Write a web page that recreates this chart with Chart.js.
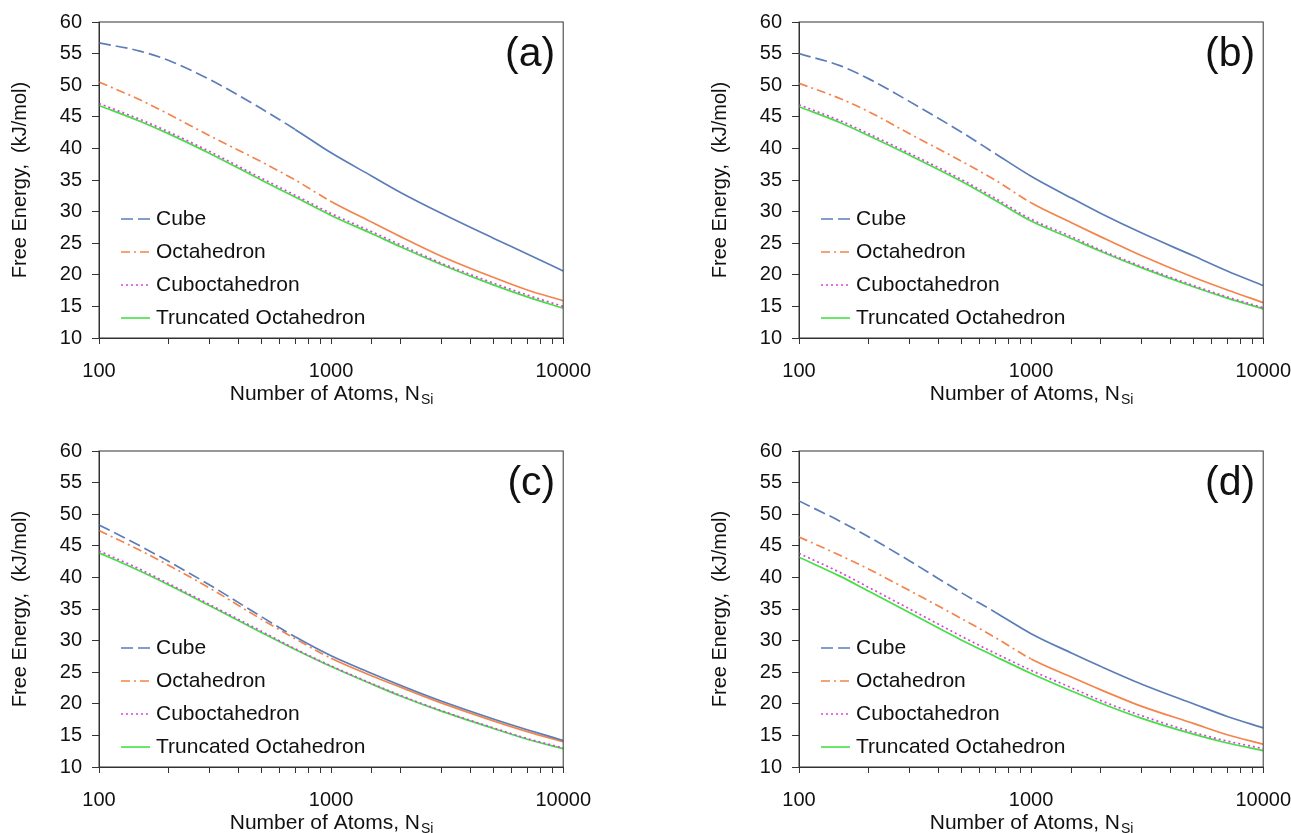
<!DOCTYPE html>
<html>
<head>
<meta charset="utf-8">
<script src="https://cdn.jsdelivr.net/npm/chart.js@4.4.0/dist/chart.umd.min.js"></script>
<style>
  html, body { margin: 0; padding: 0; background: #fff; overflow: hidden; }
  .panel { position: absolute; width: 606px; height: 410px; }
</style>
</head>
<body>
<div class="panel" style="left:0px;top:0px"><canvas id="chartA"></canvas></div>
<div class="panel" style="left:700px;top:0px"><canvas id="chartB"></canvas></div>
<div class="panel" style="left:0px;top:429px"><canvas id="chartC"></canvas></div>
<div class="panel" style="left:700px;top:429px"><canvas id="chartD"></canvas></div>
<script>
// x values (number of Si atoms)
const nAtoms = [100, 150, 200, 300, 500, 700, 1000, 1500, 2000, 3000, 5000, 7000, 10000];
const seriesNames = ['Cube', 'Octahedron', 'Cuboctahedron', 'Truncated Octahedron'];
const xTickLabels = [100, 1000, 10000];

// (a)
const cubeA  = [56.7, 55.4, 53.9, 50.9, 46.3, 43.0, 39.3, 35.6, 33.0, 29.7, 25.8, 23.3, 20.6];
const octA   = [50.5, 47.7, 45.4, 42.0, 37.9, 35.0, 31.6, 28.3, 26.0, 22.9, 19.6, 17.6, 15.9];
const cuboA  = [47.1, 44.6, 42.6, 39.5, 35.3, 32.6, 29.7, 26.8, 24.7, 21.8, 18.7, 16.8, 15.0];
const truncA = [46.8, 44.3, 42.3, 39.2, 35.0, 32.3, 29.4, 26.5, 24.4, 21.6, 18.4, 16.5, 14.7];
// (b)
const cubeB  = [55.0, 53.1, 51.0, 47.4, 42.6, 39.2, 35.6, 32.1, 29.7, 26.6, 23.0, 20.6, 18.3];
const octB   = [50.3, 47.9, 45.8, 42.3, 38.0, 35.0, 31.4, 28.2, 26.0, 23.0, 19.6, 17.6, 15.6];
const cuboB  = [46.9, 44.4, 42.3, 39.2, 35.1, 32.1, 28.8, 26.0, 23.9, 21.3, 18.3, 16.5, 14.8];
const truncB = [46.6, 44.1, 42.0, 38.9, 34.8, 31.8, 28.5, 25.7, 23.7, 21.1, 18.1, 16.3, 14.6];
// (c)
const cubeC  = [48.3, 45.0, 42.5, 38.8, 33.8, 30.6, 27.6, 24.8, 22.9, 20.4, 17.6, 15.9, 14.2];
const octC   = [47.4, 44.3, 41.9, 38.3, 33.4, 30.3, 27.2, 24.4, 22.6, 20.1, 17.3, 15.6, 14.0];
const cuboC  = [44.2, 41.3, 39.0, 35.7, 31.5, 28.7, 26.0, 23.2, 21.3, 18.9, 16.2, 14.5, 13.0];
const truncC = [43.9, 41.0, 38.8, 35.5, 31.3, 28.6, 25.9, 23.1, 21.2, 18.8, 16.1, 14.4, 12.9];
// (d)
const cubeD  = [52.1, 48.9, 46.4, 42.6, 37.6, 34.5, 31.1, 28.0, 25.9, 23.1, 20.0, 18.0, 16.2];
const octD   = [46.4, 43.5, 41.3, 37.9, 33.5, 30.5, 27.1, 24.2, 22.2, 19.6, 16.9, 15.1, 13.6];
const cuboD  = [43.8, 40.8, 38.4, 35.0, 30.7, 28.0, 25.3, 22.5, 20.5, 18.1, 15.5, 14.1, 12.9];
const truncD = [43.2, 40.2, 37.8, 34.4, 30.1, 27.5, 24.8, 22.0, 20.1, 17.7, 15.2, 13.8, 12.6];

Chart.defaults.font.family = "'Liberation Sans', Arial, sans-serif";
Chart.defaults.color = '#111';

const lineStyles = [
    { color: '#5B7DB8', dash: [12, 5], solidFrom: 700 },
    { color: '#F4844C', dash: [9, 4, 2, 4], solidFrom: 1000 },
    { color: '#E040E0', dash: [2, 3], solidFrom: Infinity },
    { color: '#44E044', dash: [], solidFrom: Infinity }
];

function toPoints(vals) {
    return nAtoms.map((n, i) => ({ x: n, y: vals[i] }));
}

// box, panel tag, legend in the lower left and x title with subscript
const panelDeco = {
    id: 'panelDeco',
    afterDraw(chart, args, opts) {
        const ctx = chart.ctx;
        const a = chart.chartArea;
        ctx.save();
        ctx.strokeStyle = '#333';
        ctx.lineWidth = 1;
        ctx.strokeRect(a.left, a.top, a.right - a.left, a.bottom - a.top);

        // tag
        ctx.fillStyle = '#111';
        ctx.font = "41px 'Liberation Sans', Arial, sans-serif";
        ctx.textAlign = 'right';
        ctx.textBaseline = 'middle';
        ctx.fillText(opts.tag, a.right - 8, a.top + 33);

        // legend
        ctx.font = "21px 'Liberation Sans', Arial, sans-serif";
        ctx.textAlign = 'left';
        chart.data.datasets.forEach((ds, i) => {
            const y = a.top + 197 + i * 33;
            ctx.strokeStyle = ds.borderColor;
            ctx.lineWidth = 1.6;
            ctx.setLineDash(ds.borderDash);
            ctx.beginPath();
            ctx.moveTo(a.left + 22, y);
            ctx.lineTo(a.left + 51, y);
            ctx.stroke();
            ctx.setLineDash([]);
            ctx.fillStyle = '#111';
            ctx.fillText(ds.label, a.left + 57, y);
        });

        // x axis title
        const main = 'Number of Atoms, N';
        const sub = 'Si';
        ctx.font = "21px 'Liberation Sans', Arial, sans-serif";
        const w1 = ctx.measureText(main).width;
        ctx.font = "14px 'Liberation Sans', Arial, sans-serif";
        const w2 = ctx.measureText(sub).width;
        const x0 = (a.left + a.right) / 2 - (w1 + w2) / 2;
        const ty = a.bottom + 62;
        ctx.textBaseline = 'alphabetic';
        ctx.font = "21px 'Liberation Sans', Arial, sans-serif";
        ctx.fillText(main, x0, ty);
        ctx.font = "14px 'Liberation Sans', Arial, sans-serif";
        ctx.fillText(sub, x0 + w1 + 1, ty + 4);
        ctx.restore();
    }
};

function makePanel(id, tag, cube, oct, cubo, trunc) {
    const datasets = [cube, oct, cubo, trunc].map((vals, i) => {
        const st = lineStyles[i];
        return {
            label: seriesNames[i],
            data: toPoints(vals),
            borderColor: st.color,
            borderWidth: 1.7,
            borderDash: st.dash,
            pointRadius: 0,
            cubicInterpolationMode: 'monotone',
            segment: {
                borderDash: ctx => ctx.p0.parsed.x >= st.solidFrom ? [] : st.dash
            }
        };
    });
    return new Chart(document.getElementById(id), {
        type: 'line',
        data: { datasets: datasets },
        options: {
            responsive: true,
            maintainAspectRatio: false,
            animation: false,
            layout: { padding: { left: 0, top: 22, right: 40, bottom: 0 } },
            plugins: {
                legend: { display: false },
                tooltip: { enabled: false },
                panelDeco: { tag: tag }
            },
            scales: {
                x: {
                    type: 'logarithmic',
                    min: 100,
                    max: 10000,
                    afterFit: s => { s.height = 72; },
                    grid: { drawOnChartArea: false, tickLength: 6, color: '#333' },
                    border: { color: '#333', width: 1 },
                    ticks: {
                        autoSkip: false,
                        maxRotation: 0,
                        padding: 15,
                        font: { size: 20 },
                        callback: v => xTickLabels.includes(Math.round(v)) ? String(Math.round(v)) : ''
                    }
                },
                y: {
                    min: 10,
                    max: 60,
                    afterFit: s => { s.width = 99; },
                    grid: { drawOnChartArea: false, tickLength: 7, color: '#333' },
                    border: { color: '#333', width: 1 },
                    ticks: { stepSize: 5, padding: 10, font: { size: 20 } },
                    title: {
                        display: true,
                        text: 'Free Energy,  (kJ/mol)',
                        font: { size: 20 },
                        padding: { top: 8, bottom: 0 }
                    }
                }
            }
        },
        plugins: [panelDeco]
    });
}

makePanel('chartA', '(a)', cubeA, octA, cuboA, truncA);
makePanel('chartB', '(b)', cubeB, octB, cuboB, truncB);
makePanel('chartC', '(c)', cubeC, octC, cuboC, truncC);
makePanel('chartD', '(d)', cubeD, octD, cuboD, truncD);
</script>
</body>
</html>
